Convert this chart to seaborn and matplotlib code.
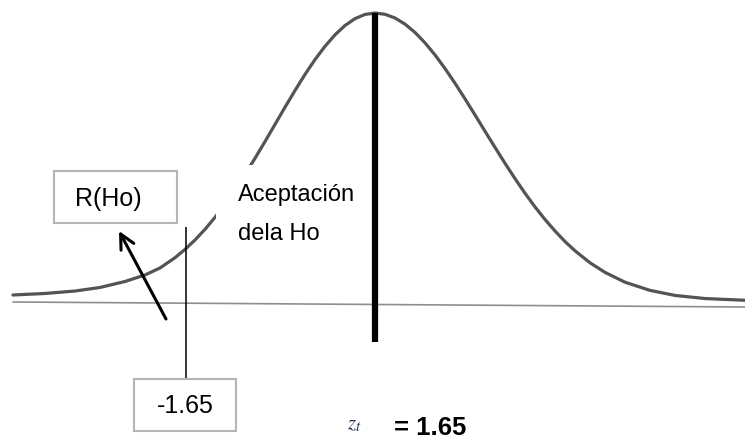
import matplotlib
matplotlib.use('Agg')
import matplotlib.pyplot as plt
from matplotlib.patches import Rectangle
import seaborn as sns

# normal curve as drawn: z position and height
curve_z = [-3.1616, -2.8821, -2.6201, -2.4017, -2.1834, -2.0087, -1.8777, -1.7467, -1.6594, -1.5721,
           -1.4847, -1.3974, -1.3100, -1.2227, -1.1354, -1.0480, -0.9607, -0.8734, -0.7860, -0.6987,
           -0.6114, -0.5240, -0.4367, -0.3493, -0.2620, -0.1747, -0.0873, 0.0,
           0.0873, 0.1747, 0.2620, 0.3493, 0.4367, 0.5240, 0.6114, 0.6987, 0.7860, 0.8734,
           0.9607, 1.0480, 1.1354, 1.2227, 1.3100, 1.3974, 1.4847, 1.5721, 1.6594, 1.7467,
           1.8777, 2.0087, 2.1834, 2.4017, 2.6201, 2.8821, 3.2314]
curve_density = [0.0097, 0.0118, 0.0152, 0.0201, 0.0284, 0.0374, 0.0471, 0.0613, 0.0728, 0.0858,
                 0.1006, 0.1172, 0.1355, 0.1553, 0.1766, 0.1989, 0.2221, 0.2458, 0.2696, 0.2927,
                 0.3150, 0.3355, 0.3539, 0.3698, 0.3827, 0.3922, 0.3980, 0.4000,
                 0.3982, 0.3931, 0.3846, 0.3731, 0.3587, 0.3420, 0.3232, 0.3028, 0.2812, 0.2589,
                 0.2364, 0.2140, 0.1920, 0.1708, 0.1506, 0.1316, 0.1142, 0.0983, 0.0837, 0.0709,
                 0.0543, 0.0410, 0.0274, 0.0161, 0.0091, 0.0048, 0.0024]

z_center = 0.0
z_left = -1.65
z_t = 1.65
reject_label = "R(Ho)"
accept_lines = ["Aceptación", "dela Ho"]

sns.set_theme(style='white')
plt.rcParams['font.family'] = ['Liberation Sans', 'DejaVu Sans']
plt.rcParams['mathtext.fontset'] = 'stix'

W, H = 745, 439
fig = plt.figure(figsize=(W / 100, H / 100), dpi=100)
ax = fig.add_axes([0, 0, 1, 1])

# helpers: picture pixel -> data units (z on x, density on y)
X0, BASE_Y = 375, 303
PX_PER_Z = 114.5
PX_PER_DENS = 289 / 0.4


def dx(p):
    return (p - X0) / PX_PER_Z


def dy(p):
    return (BASE_Y - p) / PX_PER_DENS


ax.set_xlim(dx(0), dx(W))
ax.set_ylim(dy(H), dy(0))
ax.axis('off')

# base line
ax.plot([dx(13), dx(745)], [dy(303), dy(308)], color='#8e8e8e', lw=1.2, zorder=1)

# the curve
sns.lineplot(x=curve_z, y=curve_density, ax=ax, color='#575353', linewidth=2.3,
             estimator=None, sort=False, zorder=2)

# white text box of "Aceptación" hides part of the curve
ax.add_patch(Rectangle((dx(216), dy(262)), dx(370) - dx(216), dy(166) - dy(262),
                       facecolor='white', edgecolor='none', zorder=3))

# center line and critical value line
ax.vlines(z_center, dy(343), dy(14), color='black', lw=4.5, zorder=4)
ax.vlines(z_left, dy(380), dy(228), color='black', lw=1.1, zorder=4)

# boxes
ax.add_patch(Rectangle((dx(54), dy(224)), dx(177) - dx(54), dy(172) - dy(224),
                       facecolor='white', edgecolor='#b5b5b5', lw=1.5, zorder=5))
ax.text(dx(108), dy(199), reject_label, ha='center', va='center', fontsize=18,
        color='black', zorder=6)

ax.add_patch(Rectangle((dx(134), dy(432)), dx(236) - dx(134), dy(380) - dy(432),
                       facecolor='white', edgecolor='#b5b5b5', lw=1.5, zorder=5))
ax.text(dx(185), dy(406), f"{z_left:.2f}", ha='center', va='center', fontsize=18,
        color='black', zorder=6)

# arrow to R(Ho)
ax.annotate('', xy=(dx(119), dy(232)), xytext=(dx(166), dy(320)),
            arrowprops=dict(arrowstyle='->', lw=2.2, color='black', mutation_scale=26,
                            shrinkA=0, shrinkB=0), zorder=6)

# acceptance label
ax.text(dx(238), dy(195), accept_lines[0], ha='left', va='center', fontsize=17,
        color='black', zorder=6)
ax.text(dx(238), dy(234), accept_lines[1], ha='left', va='center', fontsize=17,
        color='black', zorder=6)

# z_t = 1.65
ax.text(dx(347), dy(425), r'$z_t$', ha='left', va='center', fontsize=15, color='#1f2d4d')
ax.text(dx(394), dy(428), f"= {z_t:.2f}", ha='left', va='center', fontsize=18.5,
        fontweight='bold', color='black')

fig.savefig('out.png', dpi=100)
